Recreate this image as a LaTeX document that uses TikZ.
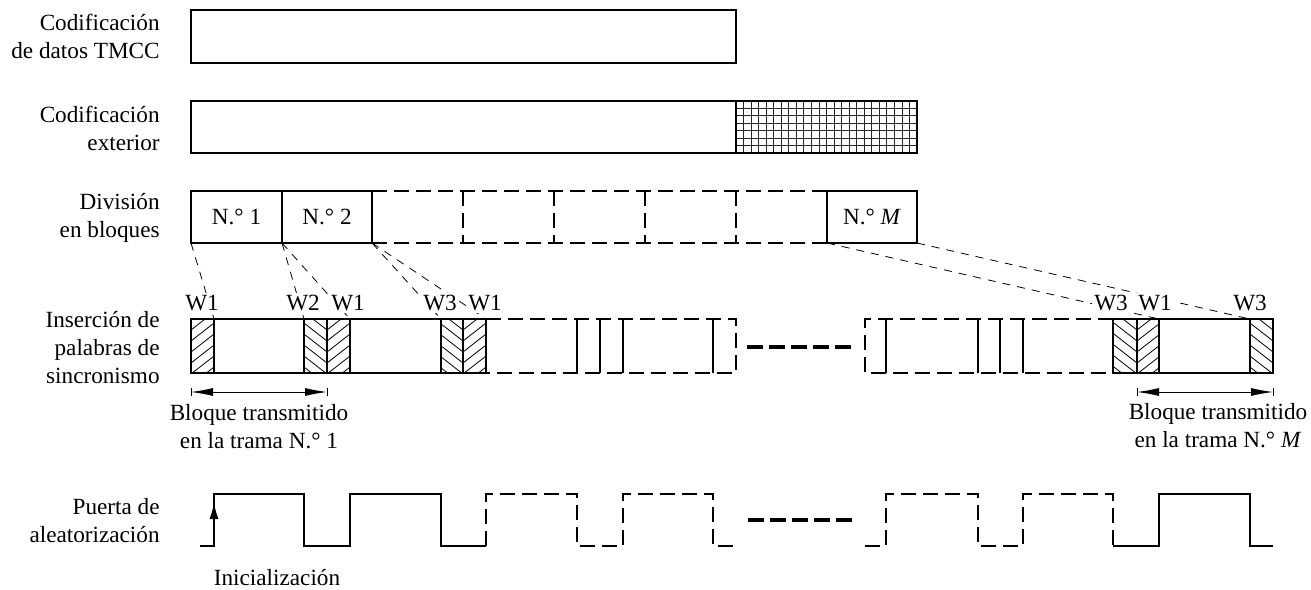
\documentclass[tikz,border=0pt]{standalone}
\usepackage{fontspec}
\setmainfont{Liberation Serif}
\usetikzlibrary{arrows.meta}
\newcommand\hatchF[2]{\begin{scope}\clip (#1,319) rectangle (#2,373);
  \foreach \k in {-1,...,8} \draw[hatchline] ({#1-20},{319+\k*11+15.6}) -- ({#1+40},{319+\k*11-31.2});
  \end{scope}}
\newcommand\hatchB[2]{\begin{scope}\clip (#1,319) rectangle (#2,373);
  \foreach \k in {-1,...,8} \draw[hatchline] ({#2+20},{319+\k*11+15.6}) -- ({#2-40},{319+\k*11-31.2});
  \end{scope}}
\begin{document}
\begin{tikzpicture}[x=0.5pt,y=-0.5pt,
  every node/.style={font=\fontsize{11.6pt}{14pt}\selectfont, inner sep=0pt},
  box/.style={line width=0.6pt},
  dbox/.style={line width=1pt, dash pattern=on 7.5pt off 3.5pt},
  sline/.style={line width=1pt},
  conn/.style={line width=0.4pt, dash pattern=on 4pt off 3.5pt},
  hatchline/.style={line width=0.4pt},
  gridline/.style={line width=0.4pt, black!85},
  lbl/.style={anchor=east, align=right},
  wlbl/.style={fill=white, inner sep=1pt},
  dots/.style={line width=2pt, dash pattern=on 8pt off 3pt},
  dim/.style={line width=0.5pt, {Latex[length=11pt,width=4pt]}-{Latex[length=11pt,width=4pt]}},
  tick/.style={line width=0.5pt},
]
\useasboundingbox (0,0) rectangle (1311,589);

% left labels
\node[lbl] (l1) at (160,36) {Codificación\\de datos TMCC};
\node[lbl] (l2) at (160,128) {Codificación\\exterior};
\node[lbl] (l3) at (160,218) {División\\en bloques};
\node[lbl] (l4) at (160,348) {Inserción de\\palabras de\\sincronismo};
\node[lbl] (l5) at (160,521) {Puerta de\\aleatorización};

% row 1
\draw[box] (191,10) rectangle (736,63);

% row 2
\foreach \i in {1,...,23} \draw[gridline] ({736+\i*181/24},101) -- ({736+\i*181/24},153);
\foreach \j in {1,...,6} \draw[gridline] (736,{101+\j*52/7}) -- (917,{101+\j*52/7});
\draw[box] (191,101) rectangle (917,153);
\draw[box] (736,101) -- (736,153);

% row 3
\draw[box] (191,191) rectangle (372,243);
\draw[box] (282,191) -- (282,243);
\node (b1) at (236.5,217) {N.° 1};
\node (b2) at (327,217) {N.° 2};
\draw[dbox] (372,191) -- (827,191) (372,243) -- (827,243);
\foreach \x in {463,554,645,736} \draw[dbox] (\x,191) -- (\x,243);
\draw[box] (827,191) rectangle (917,243);
\node (bM) at (872,217) {N.° \textit{M}};

% connector points
\coordinate (c1) at (191,243);
\coordinate (c2) at (282,243);
\coordinate (c3) at (372,243);
\coordinate (cM) at (827,243);
\coordinate (cE) at (917,243);
\coordinate (s1) at (214,319);
\coordinate (s2) at (304,319);
\coordinate (s3) at (350,319);
\coordinate (s4) at (441,319);
\coordinate (s5) at (486,319);
\coordinate (s6) at (1159,319);
\coordinate (s7) at (1250,319);
\draw[conn] (c1) -- (s1);
\draw[conn] (c2) -- (s2);
\draw[conn] (c2) -- (s3);
\draw[conn] (c3) -- (s4);
\draw[conn] (c3) -- (s5);
\draw[conn] (cM) -- (s6);
\draw[conn] (cE) -- (s7);

% W labels
\node[wlbl] (w1) at (202,303) {W1};
\node[wlbl] (w2) at (303,303) {W2};
\node[wlbl] (w3) at (348,303) {W1};
\node[wlbl] (w4) at (440,303) {W3};
\node[wlbl] (w5) at (485,303) {W1};
\node[wlbl] (w6) at (1111,303) {W3};
\node[wlbl] (w7) at (1155,303) {W1};
\node[wlbl] (w8) at (1250,303) {W3};

% row 4 hatches
\hatchF{191}{214}
\hatchB{304}{327}
\hatchF{327}{350}
\hatchB{441}{463}
\hatchF{463}{486}
\hatchB{1113}{1137}
\hatchF{1137}{1159}
\hatchB{1250}{1273}

% row 4 outlines
\draw[box] (486,319) -- (191,319) -- (191,373) -- (486,373);
\foreach \x in {214,304,327,350,441,463,486} \draw[box] (\x,319) -- (\x,373);
\draw[dbox] (486,319) -- (736,319) -- (736,373) -- (486,373);
\foreach \x in {577,600,623,713} \draw[sline] (\x,319) -- (\x,373);
\draw[dbox] (1113,319) -- (865,319) -- (865,373) -- (1113,373);
\foreach \x in {886,978,1000,1023} \draw[sline] (\x,319) -- (\x,373);
\draw[box] (1113,319) -- (1273,319) -- (1273,373) -- (1113,373) -- cycle;
\foreach \x in {1137,1159,1250} \draw[box] (\x,319) -- (\x,373);
\draw[dots] (747,347) -- (853,347);

% transmitted block dimensions
\coordinate (d1a) at (191,392);
\coordinate (d1b) at (327,392);
\coordinate (dMa) at (1137,392);
\coordinate (dMb) at (1273,392);
\draw[dim] (d1a) -- (d1b);
\draw[dim] (dMa) -- (dMb);
\foreach \p in {d1a,d1b,dMa,dMb} \draw[tick] ([yshift=2pt]\p) -- ([yshift=-2pt]\p);
\node[align=center] (t1) at (259,427) {Bloque transmitido\\en la trama N.° 1};
\node[align=center] (tM) at (1218,426) {Bloque transmitido\\en la trama N.° \textit{M}};

% gate
\draw[box] (200,546) -- (214,546) -- (214,494) -- (304,494) -- (304,546) -- (350,546) -- (350,494) -- (441,494) -- (441,546) -- (486,546);
\draw[dbox] (486,546) -- (486,494) -- (577,494) -- (577,546) -- (623,546) -- (623,494) -- (713,494) -- (713,546) -- (736,546);
\draw[dbox] (865,546) -- (886,546) -- (886,494) -- (978,494) -- (978,546) -- (1023,546) -- (1023,494) -- (1113,494) -- (1113,546);
\draw[box] (1113,546) -- (1159,546) -- (1159,494) -- (1250,494) -- (1250,546) -- (1273,546);
\draw[dots] (748,520) -- (855,520);
\coordinate (g0) at (214,540);
\coordinate (g1) at (214,503);
\draw[box, -{Latex[length=8pt,width=4.5pt]}] (g0) -- (g1);
\node (ini) at (277,578) {Inicialización};
\end{tikzpicture}
\end{document}
